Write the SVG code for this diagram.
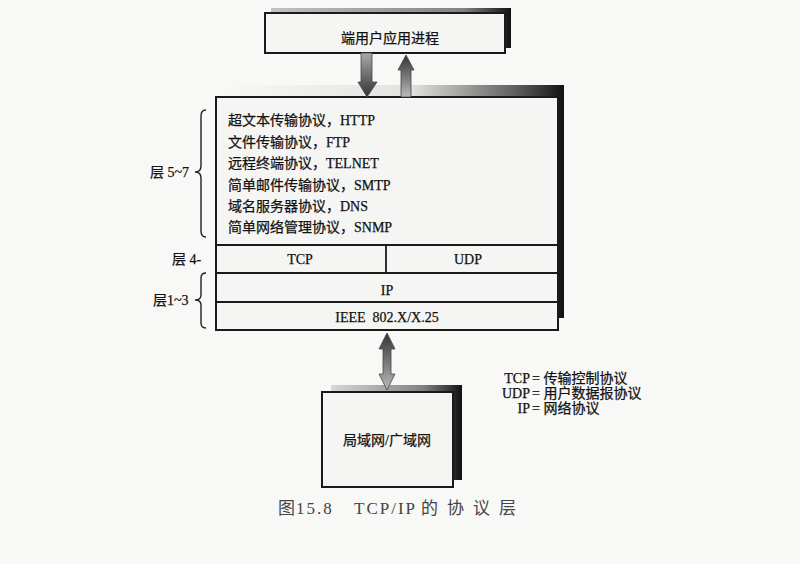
<svg xmlns="http://www.w3.org/2000/svg" width="800" height="564" viewBox="0 0 800 564">
<defs>
<style>
.box{fill:#f5f5f3;stroke:#1a1a1a;stroke-width:2}
.ln{stroke:#1a1a1a;stroke-width:1.8;fill:none}
.t{font-family:"Liberation Serif","Noto Sans CJK SC",serif;font-size:14px;fill:#111;stroke:#111;stroke-width:0.25}
.tc{text-anchor:middle}
.br{fill:none;stroke:#222;stroke-width:1.4}
.cap{font-family:"Liberation Serif","Noto Sans CJK SC",serif;font-size:17px;fill:#444}
</style>
<linearGradient id="sh" x1="0" y1="0" x2="1" y2="0">
<stop offset="0" stop-color="#222" stop-opacity="0"/>
<stop offset="0.55" stop-color="#222" stop-opacity="0.1"/>
<stop offset="0.85" stop-color="#222" stop-opacity="0.7"/>
<stop offset="1" stop-color="#111" stop-opacity="1"/>
</linearGradient>
<linearGradient id="shTop" x1="0" y1="0" x2="1" y2="0">
<stop offset="0" stop-color="#222" stop-opacity="0.25"/>
<stop offset="0.8" stop-color="#222" stop-opacity="0.55"/>
<stop offset="1" stop-color="#111" stop-opacity="1"/>
</linearGradient>
<linearGradient id="shBot" x1="0" y1="0" x2="1" y2="0">
<stop offset="0" stop-color="#222" stop-opacity="0.15"/>
<stop offset="0.7" stop-color="#222" stop-opacity="0.55"/>
<stop offset="1" stop-color="#111" stop-opacity="1"/>
</linearGradient>
<linearGradient id="gDown" x1="0" y1="0" x2="0" y2="1">
<stop offset="0" stop-color="#aaa"/>
<stop offset="1" stop-color="#333"/>
</linearGradient>
<linearGradient id="gUp" x1="0" y1="1" x2="0" y2="0">
<stop offset="0" stop-color="#bbb"/>
<stop offset="1" stop-color="#333"/>
</linearGradient>
<linearGradient id="gBoth" x1="0" y1="0" x2="0" y2="1">
<stop offset="0" stop-color="#333"/>
<stop offset="1" stop-color="#bbb"/>
</linearGradient>
</defs>
<rect width="800" height="564" fill="#f8f8f6"/>

<g id="top-box">
<rect x="271" y="8" width="240" height="40" fill="url(#shTop)"/>
<rect class="box" x="265" y="13" width="240" height="40"/>
<text class="t tc" x="390" y="43" font-size="14.5">端用户应用进程</text>
</g>

<g id="protocol-stack">
<rect x="223" y="85" width="341" height="233" fill="url(#sh)"/>
<rect class="box" x="216" y="97" width="342" height="233"/>
<line class="ln" x1="216" y1="245" x2="558" y2="245"/>
<line class="ln" x1="216" y1="273" x2="558" y2="273"/>
<line class="ln" x1="216" y1="302" x2="558" y2="302"/>
<line class="ln" x1="386" y1="245" x2="386" y2="273"/>
<text class="t" x="228" y="125">超文本传输协议，HTTP</text>
<text class="t" x="228" y="147">文件传输协议，FTP</text>
<text class="t" x="228" y="168">远程终端协议，TELNET</text>
<text class="t" x="228" y="190">简单邮件传输协议，SMTP</text>
<text class="t" x="228" y="211">域名服务器协议，DNS</text>
<text class="t" x="228" y="232">简单网络管理协议，SNMP</text>
<text class="t tc" x="300" y="264">TCP</text>
<text class="t tc" x="468" y="264">UDP</text>
<text class="t tc" x="387" y="295">IP</text>
<text class="t tc" x="387" y="322" xml:space="preserve">IEEE  802.X/X.25</text>
</g>

<g id="layer-labels">
<text class="t" x="150" y="177">层 5~7</text>
<path class="br" d="M206,110 Q201,110 201,116 L201,166 Q201,172 195,172 Q201,172 201,178 L201,231 Q201,237 206,237"/>
<text class="t" x="172" y="264">层 4-</text>
<text class="t" x="153" y="305">层1~3</text>
<path class="br" d="M206,273 Q201,273 201,278 L201,295 Q201,300 195,300 Q201,300 201,305 L201,323 Q201,328 206,328"/>
</g>

<g id="network-box">
<rect x="331" y="385" width="131" height="95" fill="url(#shBot)"/>
<rect class="box" x="322" y="392" width="131" height="95"/>
<text class="t tc" x="387" y="445" font-size="14.5">局域网/广域网</text>
</g>

<g id="connectors">
<path d="M361,53 L372,53 L372,82 L377,82 L367,97 L358,82 L361,82 Z" fill="url(#gDown)" stroke="#444" stroke-width="0.8"/>
<path d="M406,55 L414,70 L411,70 L411,97 L401,97 L401,70 L398,70 Z" fill="url(#gUp)" stroke="#444" stroke-width="0.8"/>
<path d="M387,333 L395,349 L391,349 L391,374 L395,374 L387,390 L379,374 L383,374 L383,349 L379,349 Z" fill="url(#gBoth)" stroke="#444" stroke-width="0.8"/>
</g>

<g id="legend">
<text class="t" x="530" y="383" text-anchor="end">TCP</text>
<text class="t" x="532" y="383">= 传输控制协议</text>
<text class="t" x="530" y="398" text-anchor="end">UDP</text>
<text class="t" x="532" y="398">= 用户数据报协议</text>
<text class="t" x="530" y="413" text-anchor="end">IP</text>
<text class="t" x="532" y="413">= 网络协议</text>
</g>

<text class="cap" y="514"><tspan x="278">图</tspan><tspan x="296" letter-spacing="2">15.8</tspan><tspan x="354" letter-spacing="2">TCP/IP</tspan><tspan x="421" letter-spacing="9">的协议层</tspan></text>
</svg>
